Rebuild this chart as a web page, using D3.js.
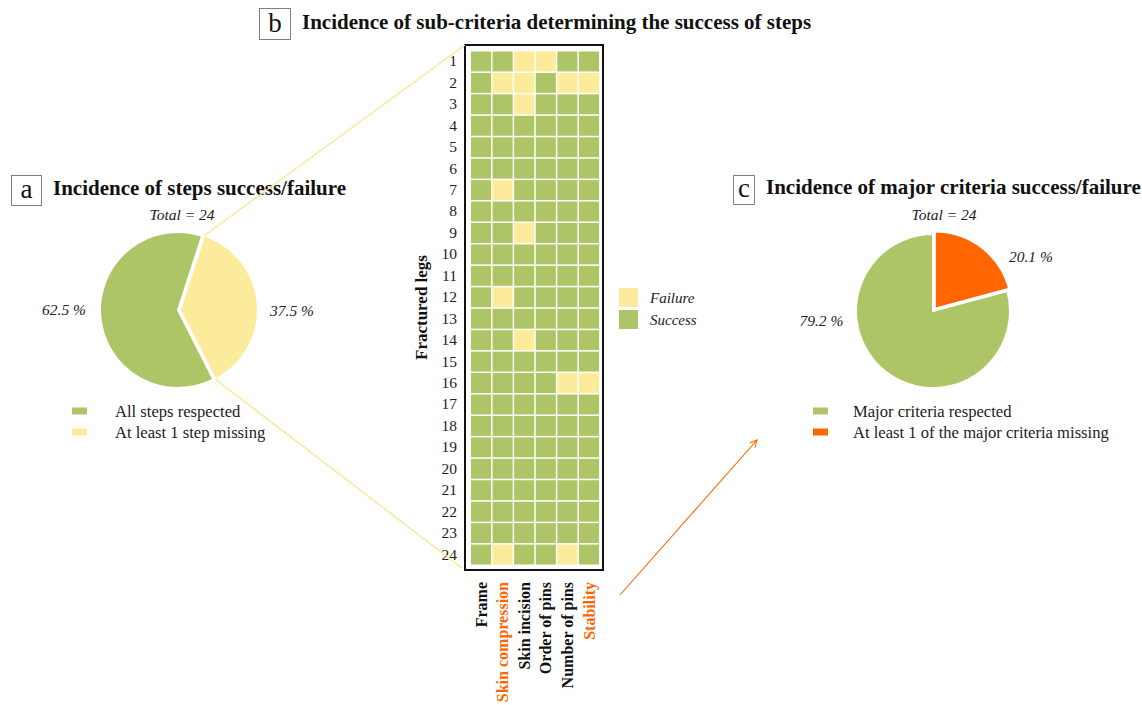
<!DOCTYPE html>
<html>
<head>
<meta charset="utf-8">
<script src="https://cdn.jsdelivr.net/npm/d3@7"></script>
<style>
  body { margin: 0; background: #fff; }
  svg { display: block; font-family: "Liberation Serif", "Times New Roman", serif; }
</style>
</head>
<body>
<div id="chart"></div>
<script>
// ---- data ----
const criteria = ["Frame", "Skin compression", "Skin incision", "Order of pins", "Number of pins", "Stability"]
const majorCriteria = ["Skin compression", "Stability"]
const legs = ["1", "2", "3", "4", "5", "6", "7", "8", "9", "10", "11", "12",
    "13", "14", "15", "16", "17", "18", "19", "20", "21", "22", "23", "24"]
// 1 = failure, 0 = success (one row per fractured leg, one column per criterion)
const outcome = [
    [0, 0, 1, 1, 0, 0],
    [0, 1, 1, 0, 1, 1],
    [0, 0, 1, 0, 0, 0],
    [0, 0, 0, 0, 0, 0],
    [0, 0, 0, 0, 0, 0],
    [0, 0, 0, 0, 0, 0],
    [0, 1, 0, 0, 0, 0],
    [0, 0, 0, 0, 0, 0],
    [0, 0, 1, 0, 0, 0],
    [0, 0, 0, 0, 0, 0],
    [0, 0, 0, 0, 0, 0],
    [0, 1, 0, 0, 0, 0],
    [0, 0, 0, 0, 0, 0],
    [0, 0, 1, 0, 0, 0],
    [0, 0, 0, 0, 0, 0],
    [0, 0, 0, 0, 1, 1],
    [0, 0, 0, 0, 0, 0],
    [0, 0, 0, 0, 0, 0],
    [0, 0, 0, 0, 0, 0],
    [0, 0, 0, 0, 0, 0],
    [0, 0, 0, 0, 0, 0],
    [0, 0, 0, 0, 0, 0],
    [0, 0, 0, 0, 0, 0],
    [0, 1, 0, 0, 1, 0]
]
const heatLegend = ["Failure", "Success"]

const stepsCats = ["At least 1 step missing", "All steps respected"]
const stepsCounts = [9, 15]
const stepsPct = ["37.5 %", "62.5 %"]

const majorCats = ["At least 1 of the major criteria missing", "Major criteria respected"]
const majorCounts = [5, 19]
const majorPct = ["20.1 %", "79.2 %"]

const total = 24

// ---- style ----
const GREEN = "#adc567", YELLOW = "#fdeb9c", ORANGE = "#ff6600"

const W = 1142, H = 705
const svg = d3.select("#chart").append("svg").attr("width", W).attr("height", H)
svg.append("rect").attr("width", W).attr("height", H).attr("fill", "#fff")

// panel headers
function header(x, y, bw, bh, letter, title) {
    svg.append("rect").attr("x", x + 0.5).attr("y", y + 0.5).attr("width", bw).attr("height", bh)
        .attr("fill", "#fff").attr("stroke", "#7f7f7f").attr("stroke-width", 1)
    svg.append("text").attr("x", x + bw / 2 + 0.5).attr("y", y + bh - 7)
        .attr("text-anchor", "middle").attr("font-size", 27).attr("fill", "#111").text(letter)
    svg.append("text").attr("x", x + bw + 12).attr("y", y + bh - 10)
        .attr("font-size", 21).attr("font-weight", "bold").attr("fill", "#111").text(title)
}
header(11, 175, 30, 30, "a", "Incidence of steps success/failure")
header(259, 8, 31, 31, "b", "Incidence of sub-criteria determining the success of steps")
header(733, 175, 21, 29, "c", "Incidence of major criteria success/failure")

// ---- heatmap (b) ----
const box = { x0: 465, y0: 45, x1: 603, y1: 570 }
const x = d3.scaleBand().domain(criteria).range([471, 599]).paddingInner(0.07)
const y = d3.scaleBand().domain(legs).range([51.5, 564.5]).paddingInner(0.07)

const cells = []
legs.forEach((l, i) => criteria.forEach((c, j) => cells.push({ leg: l, crit: c, fail: outcome[i][j] })))

svg.append("g").selectAll("rect").data(cells).enter().append("rect")
    .attr("x", d => x(d.crit)).attr("y", d => y(d.leg))
    .attr("width", x.bandwidth()).attr("height", y.bandwidth())
    .attr("fill", d => d.fail ? YELLOW : GREEN)

svg.append("rect").attr("x", box.x0).attr("y", box.y0)
    .attr("width", box.x1 - box.x0).attr("height", box.y1 - box.y0)
    .attr("fill", "none").attr("stroke", "#111").attr("stroke-width", 2)

const yAxis = svg.append("g").attr("transform", `translate(${box.x0 - 2},0)`)
    .call(d3.axisLeft(y).tickSize(0).tickPadding(6))
yAxis.select(".domain").remove()
yAxis.selectAll("text").attr("font-size", 15.5).attr("font-family", "Liberation Serif").attr("fill", "#222")

const xAxis = svg.append("g").attr("transform", `translate(0,${box.y1})`)
    .call(d3.axisBottom(x).tickSize(0).tickPadding(0))
xAxis.select(".domain").remove()
xAxis.selectAll("text")
    .attr("font-size", 16).attr("font-family", "Liberation Serif").attr("font-weight", "bold")
    .attr("fill", d => majorCriteria.includes(d) ? ORANGE : "#111")
    .attr("text-anchor", "end").attr("dy", "0.35em")
    .attr("transform", "translate(0,12) rotate(-90)")
    .attr("y", 0).attr("x", 0)

svg.append("text").attr("transform", `translate(427,${(box.y0 + box.y1) / 2}) rotate(-90)`)
    .attr("text-anchor", "middle").attr("font-size", 17).attr("font-weight", "bold").attr("fill", "#111")
    .text("Fractured legs")

const hl = svg.append("g").selectAll("g").data(heatLegend).enter().append("g")
    .attr("transform", (d, i) => `translate(619,${288 + i * 22})`)
hl.append("rect").attr("width", 19).attr("height", 19).attr("fill", (d, i) => i ? GREEN : YELLOW)
hl.append("text").attr("x", 31).attr("y", 14.5).attr("font-size", 15).attr("font-style", "italic")
    .attr("fill", "#222").text(d => d)

// ---- pies (a, c) ----
function pieChart(cfg) {
    const g = svg.append("g").attr("transform", `translate(${cfg.cx},${cfg.cy})`)
    const pie = d3.pie().sort(null)
        .startAngle(cfg.start * Math.PI / 180).endAngle(cfg.start * Math.PI / 180 + 2 * Math.PI)
    const arcs = pie(cfg.values)
    const arc = d3.arc().innerRadius(0).outerRadius(cfg.r)
    const off = a => {
        if (a.index !== 0) return [0, 0]
        const m = (a.startAngle + a.endAngle) / 2
        return [Math.sin(m) * cfg.explode, -Math.cos(m) * cfg.explode]
    }
    g.selectAll("path").data(arcs).enter().append("path")
        .attr("d", arc)
        .attr("transform", d => `translate(${off(d)})`)
        .attr("fill", (d, i) => cfg.colors[i])
        .attr("stroke", "#fff").attr("stroke-width", 2).attr("stroke-linejoin", "round")
    g.selectAll("text.pct").data(arcs).enter().append("text").attr("class", "pct")
        .attr("x", (d, i) => Math.sin(cfg.labelAng[i] * Math.PI / 180) * cfg.labelR)
        .attr("y", (d, i) => -Math.cos(cfg.labelAng[i] * Math.PI / 180) * cfg.labelR + 5)
        .attr("text-anchor", "middle").attr("font-size", 15.5).attr("font-style", "italic").attr("fill", "#222")
        .text((d, i) => cfg.pct[i])
    g.append("text").attr("x", cfg.totalDx).attr("y", 220 - cfg.cy)
        .attr("text-anchor", "middle").attr("font-size", 15.5).attr("font-style", "italic").attr("fill", "#222")
        .text("Total = " + total)
    // legend: second category first
    const order = [1, 0]
    const lg = svg.append("g").selectAll("g").data(order).enter().append("g")
        .attr("transform", (d, k) => `translate(${cfg.legX},${cfg.legY + k * 21})`)
    lg.append("rect").attr("x", 0).attr("y", -3.5).attr("width", 15).attr("height", 7).attr("fill", d => cfg.colors[d])
    lg.append("text").attr("x", cfg.legTx).attr("y", 5.5).attr("font-size", 16.6).attr("fill", "#222")
        .text(d => cfg.cats[d])
    // anchor points of the slice edges (for connectors)
    const a0 = arcs[0]
    const o = off(a0)
    return [a0.startAngle, a0.endAngle].map(t => [cfg.cx + o[0] + Math.sin(t) * cfg.r, cfg.cy + o[1] - Math.cos(t) * cfg.r])
}

const edgesA = pieChart({
    cx: 178, cy: 310, r: 78, start: 18, explode: 2, values: stepsCounts, cats: stepsCats,
    pct: stepsPct, colors: [YELLOW, GREEN], labelAng: [90.5, 270], labelR: 114, totalDx: 4,
    legX: 72, legY: 411, legTx: 43
})
pieChart({
    cx: 933, cy: 311, r: 77, start: 0, explode: 3, values: majorCounts, cats: majorCats,
    pct: majorPct, colors: [ORANGE, GREEN], labelAng: [61, 265], labelR: 112, totalDx: 11,
    legX: 813, legY: 411, legTx: 40
})

// connectors from pie a to heatmap
svg.append("g").selectAll("line").data([[edgesA[0], [box.x0, box.y0]], [edgesA[1], [box.x0 - 3, box.y1 - 2]]])
    .enter().append("line")
    .attr("x1", d => d[0][0]).attr("y1", d => d[0][1]).attr("x2", d => d[1][0]).attr("y2", d => d[1][1])
    .attr("stroke", "#fde58a").attr("stroke-width", 1.3)

// arrow from major criteria to pie c
svg.append("defs").append("marker").attr("id", "arr").attr("viewBox", "0 0 10 10")
    .attr("refX", 9).attr("refY", 5).attr("markerWidth", 8).attr("markerHeight", 8).attr("orient", "auto")
    .append("path").attr("d", "M1,1 L9,5 L1,9").attr("fill", "none").attr("stroke", ORANGE).attr("stroke-width", 1.2)
svg.append("line").attr("x1", 620).attr("y1", 595).attr("x2", 757).attr("y2", 440)
    .attr("stroke", ORANGE).attr("stroke-width", 1.1).attr("marker-end", "url(#arr)")
</script>
</body>
</html>
